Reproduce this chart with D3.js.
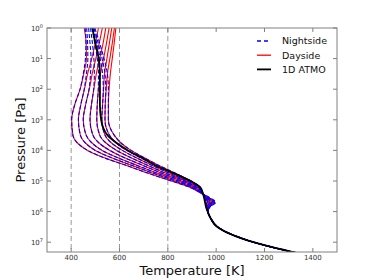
<!DOCTYPE html>
<html><head><meta charset="utf-8">
<script src="https://cdn.jsdelivr.net/npm/d3@7"></script>
<style>body{margin:0;background:#fff}svg{display:block}</style>
</head><body><svg id="c" width="374" height="280"></svg>
<script>
// pressure levels, as log10(P [Pa])
const logPressure = [0,0.5,1,1.5,2,2.5,3,3.5,3.75,4,4.25,4.5,4.75,5,5.2,5.4,5.55,5.7,5.85,6,6.2,6.5,7,7.4];

const atmo1D = [488,500,514,519,519,519,524,550,587,635,695,752,825,895,933,945,950,954,958,965,976,1005,1155,1360];

const nightside = [
  [458,461,459,450,437,415,402,407,425,468,540,632,720,815,890,938,975,998,975,966,976,1005,1155,1360],
  [464,468,469,463,454,440,430,438,458,500,570,655,740,830,900,939,970,993,972,966,976,1005,1155,1360],
  [472,478,482,480,474,460,450,462,485,528,596,676,757,845,908,940,967,988,970,966,976,1005,1155,1360],
  [480,488,494,496,493,484,478,490,514,560,624,700,775,858,914,941,964,983,968,966,976,1005,1155,1360],
  [486,498,508,513,512,508,506,518,543,588,650,720,792,870,920,942,961,978,966,966,976,1005,1155,1360],
  [490,506,520,530,533,530,527,540,566,612,672,738,808,880,925,943,958,972,964,965,976,1005,1155,1360],
  [494,512,528,540,543,541,540,558,585,630,690,752,822,890,930,944,955,966,962,965,976,1005,1155,1360],
  [498,518,536,550,554,554,554,578,605,648,705,765,832,895,934,945,953,960,960,965,976,1005,1155,1360]
];

const dayside = [
  [454,462,463,452,437,415,402,407,425,468,540,632,720,815,890,938,972,994,973,966,976,1005,1155,1360],
  [513,500,485,468,455,440,430,438,458,500,570,655,740,830,900,939,968,990,971,966,976,1005,1155,1360],
  [529,516,502,487,475,460,450,462,485,528,596,676,757,845,908,940,966,986,969,966,976,1005,1155,1360],
  [543,532,518,504,494,484,478,490,514,560,624,700,775,858,914,941,963,981,967,966,976,1005,1155,1360],
  [557,546,534,521,513,508,506,518,543,588,650,720,792,870,920,942,960,976,965,966,976,1005,1155,1360],
  [568,558,548,538,534,530,527,540,566,612,672,738,808,880,925,943,957,970,963,965,976,1005,1155,1360],
  [579,570,560,550,545,541,540,558,585,630,690,752,822,890,930,944,954,964,961,965,976,1005,1155,1360],
  [585,578,570,562,557,554,554,578,605,648,705,765,832,895,934,945,952,958,959,965,976,1005,1155,1360]
];

const xTicks = [400,600,800,1000,1200,1400];
const yTickExp = [0,1,2,3,4,5,6,7];
const refLines = [400,600,800];
const legendItems = [
  {label:"Nightside", color:"#0000ff", dash:"4,3", width:1.3},
  {label:"Dayside", color:"#ff0000", dash:null, width:1.3},
  {label:"1D ATMO", color:"#000000", dash:null, width:1.8}
];

const W=374,H=280, L=47, R=337, T=28, B=252;
const svg = d3.select("#c");
const font = "DejaVu Sans, sans-serif";
const x = d3.scaleLinear().domain([300,1500]).range([L,R]);
const y = d3.scaleLog().domain([1,2.09e7]).range([T,B]);

svg.append("defs").append("clipPath").attr("id","clip")
  .append("rect").attr("x",L).attr("y",T).attr("width",R-L).attr("height",B-T);

// reference dashed lines
svg.append("g").selectAll("line").data(refLines).join("line")
  .attr("x1",d=>x(d)).attr("x2",d=>x(d)).attr("y1",T).attr("y2",B)
  .attr("stroke","#999").attr("stroke-width",1).attr("stroke-dasharray","5,3");

const line = d3.line()
  .x(d=>x(d[1])).y(d=>y(Math.pow(10,d[0])))
  .curve(d3.curveMonotoneY);
const toPts = arr => arr.map((t,i)=>[logPressure[i], t]);

const plot = svg.append("g").attr("clip-path","url(#clip)");
plot.selectAll("path.day").data(dayside).join("path").attr("class","day")
  .attr("d",d=>line(toPts(d))).attr("fill","none")
  .attr("stroke","#ff0000").attr("stroke-width",1.1);
plot.selectAll("path.night").data(nightside).join("path").attr("class","night")
  .attr("d",d=>line(toPts(d))).attr("fill","none")
  .attr("stroke","#0000ff").attr("stroke-width",1.1).attr("stroke-dasharray","4,2");
plot.append("path").attr("d",line(toPts(atmo1D))).attr("fill","none")
  .attr("stroke","#000").attr("stroke-width",1.8);

// frame
svg.append("rect").attr("x",L).attr("y",T).attr("width",R-L).attr("height",B-T)
  .attr("fill","none").attr("stroke","#808080").attr("stroke-width",1);

// ticks
const tk = svg.append("g").attr("stroke","#808080").attr("stroke-width",1);
xTicks.forEach(v=>{
  tk.append("line").attr("x1",x(v)).attr("x2",x(v)).attr("y1",B).attr("y2",B-4);
  tk.append("line").attr("x1",x(v)).attr("x2",x(v)).attr("y1",T).attr("y2",T+4);
});
yTickExp.forEach(e=>{
  const yy=y(Math.pow(10,e));
  tk.append("line").attr("x1",L).attr("x2",L+4).attr("y1",yy).attr("y2",yy);
  tk.append("line").attr("x1",R).attr("x2",R-4).attr("y1",yy).attr("y2",yy);
});

svg.append("g").selectAll("text").data(xTicks).join("text")
  .attr("x",d=>x(d)).attr("y",B+8).attr("text-anchor","middle")
  .attr("font-family",font).attr("font-size",7).attr("fill","#333").text(d=>d);

const yl = svg.append("g").selectAll("text").data(yTickExp).join("text")
  .attr("x",L-4).attr("y",d=>y(Math.pow(10,d))+3).attr("text-anchor","end")
  .attr("font-family",font).attr("font-size",7).attr("fill","#333");
yl.append("tspan").text("10");
yl.append("tspan").attr("dy",-3).attr("font-size",5).text(d=>d);

svg.append("text").attr("x",(L+R)/2).attr("y",274.5).attr("text-anchor","middle")
  .attr("font-family",font).attr("font-size",13).attr("fill","#111").text("Temperature [K]");
svg.append("text").attr("transform",`translate(25,${(T+B)/2}) rotate(-90)`).attr("text-anchor","middle")
  .attr("font-family",font).attr("font-size",13).attr("fill","#111").text("Pressure [Pa]");

// legend
const lg = svg.append("g");
legendItems.forEach((it,i)=>{
  const yy = 41 + i*14.2;
  lg.append("line").attr("x1",257).attr("x2",271).attr("y1",yy).attr("y2",yy)
    .attr("stroke",it.color).attr("stroke-width",it.width).attr("stroke-dasharray",it.dash);
  lg.append("text").attr("x",282).attr("y",yy+3.4).attr("font-family",font)
    .attr("font-size",9.5).attr("fill","#111").text(it.label);
});
</script></body></html>
